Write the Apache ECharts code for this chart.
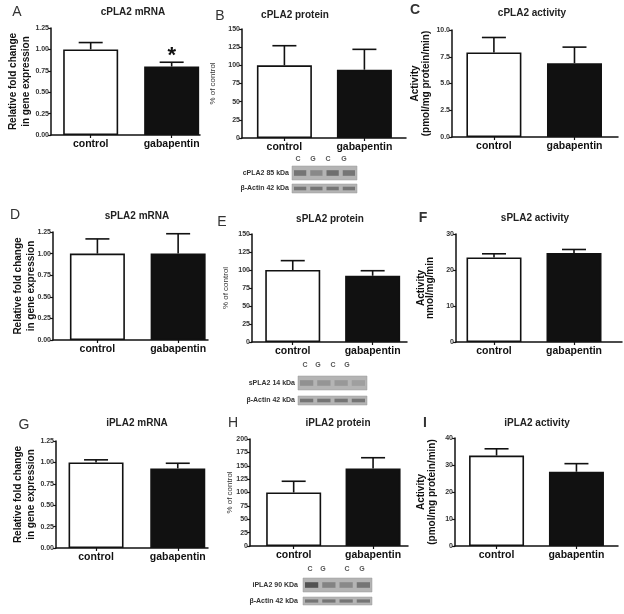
<!DOCTYPE html>
<html>
<head>
<meta charset="utf-8">
<script src="https://cdn.jsdelivr.net/npm/echarts@6/dist/echarts.min.js"></script>
<style>
  html, body { margin: 0; padding: 0; background: #fff; }
  #chart { width: 624px; height: 614px; }
</style>
</head>
<body>
<div id="chart"></div>
<script>
// ---- data ----
const categories = ['control', 'gabapentin'];
const panelLetters = ['A', 'B', 'C', 'D', 'E', 'F', 'G', 'H', 'I'];
const panelTitles = ['cPLA2 mRNA', 'cPLA2 protein', 'cPLA2 activity',
                     'sPLA2 mRNA', 'sPLA2 protein', 'sPLA2 activity',
                     'iPLA2 mRNA', 'iPLA2 protein', 'iPLA2 activity'];
const yNames = ['Relative fold change\nin gene expression', '% of control', 'Activity\n(pmol/mg protein/min)',
                'Relative fold change\nin gene expression', '% of control', 'Activity\nnmol/mg/min',
                'Relative fold change\nin gene expression', '% of control', 'Activity\n(pmol/mg protein/min)'];
const means = [[1.00, 0.80], [100, 94], [7.9, 6.9],
               [1.00, 1.00], [100, 92], [23.5, 24.7],
               [1.00, 0.93], [100, 145], [33.5, 27.5]];
const errors = [[0.08, 0.05], [27, 28], [1.4, 1.5],
                [0.17, 0.23], [13, 7], [1.0, 1.0],
                [0.03, 0.06], [21, 20], [2.5, 3.0]];
const significant = [[0, 1], [0, 0], [0, 0], [0, 0], [0, 0], [0, 0], [0, 0], [0, 0], [0, 0]];
const yMax = [1.25, 150, 10, 1.25, 150, 30, 1.25, 200, 40];
const yStep = [0.25, 25, 2.5, 0.25, 25, 10, 0.25, 25, 10];
const yDecimals = [2, 0, 1, 2, 0, 0, 2, 0, 0];
const laneLabels = ['C', 'G', 'C', 'G'];
const blotNames = [['cPLA2 85 kDa', 'β-Actin 42 kDa'], ['sPLA2 14 kDa', 'β-Actin 42 kDa'], ['iPLA2 90 KDa', 'β-Actin 42 kDa']];

// ---- layout (px) ----
// [left, top, width, height, xMin, xMax, nameGap, nameLineHeight]
const grids = [
  [51, 28, 149, 107, -0.49, 1.35, 19, 12.5], [242, 29, 164, 109, -0.53, 1.52, 24, 10], [452, 30, 166, 107, -0.52, 1.54, 20, 11],
  [53, 232, 155, 108, -0.55, 1.37, 15.5, 13], [252, 234, 155, 108, -0.51, 1.43, 21.5, 10], [456, 234, 166, 108, -0.475, 1.6, 21, 9.5],
  [56, 441, 152, 107, -0.49, 1.37, 18.5, 13], [250, 439, 158, 107, -0.55, 1.44, 15, 10], [455, 438, 163, 108, -0.52, 1.52, 18, 10.5]
];
const titlePos = [[133, 12], [295, 15], [532, 13], [137, 216], [330, 219], [535, 218], [137, 423], [338, 423], [537, 423]];
const letterPos = [[17, 12, 'normal'], [220, 16, 'normal'], [415, 10, 'bold'], [15, 215, 'normal'], [222, 222, 'normal'],
                   [423, 218, 'bold'], [24, 425, 'normal'], [233, 423, 'normal'], [425, 423, 'bold']];
// blot: lane label y, lane xs, label right edge, [x, y, w, h] for each strip
const blotLayout = [
  { laneY: 159, laneX: [298, 313, 328, 344], textRight: 289, strips: [[292, 166, 65, 14], [292, 184, 65, 9]] },
  { laneY: 365, laneX: [305, 318, 333, 347], textRight: 295, strips: [[298, 376, 69, 14], [298, 396, 69, 9]] },
  { laneY: 569, laneX: [310, 323, 347, 362], textRight: 298, strips: [[303, 578, 69, 14], [303, 597, 69, 8]] }
];
const bandShade = [[0.45, 0.3, 0.5, 0.45], [0.25, 0.22, 0.2, 0.15], [0.7, 0.35, 0.3, 0.45]];

const FONT = 'Arial, "Liberation Sans", sans-serif';
const INK = '#111';

const chart = echarts.init(document.getElementById('chart'));

function renderErr(params, api) {
  const x = api.value(0), m = api.value(1), e = api.value(2);
  const base = api.coord([x, m]);
  const top = api.coord([x, m + e]);
  const kids = [
    { type: 'line', shape: { x1: base[0], y1: base[1], x2: top[0], y2: top[1] }, style: { stroke: INK, lineWidth: 1.6 } },
    { type: 'line', shape: { x1: top[0] - 12, y1: top[1], x2: top[0] + 12, y2: top[1] }, style: { stroke: INK, lineWidth: 1.6 } }
  ];
  if (api.value(3)) {
    kids.push({ type: 'text', x: top[0], y: top[1] - 17,
      style: { text: '*', font: 'bold 22px ' + FONT, align: 'center', verticalAlign: 'top', fill: INK } });
  }
  return { type: 'group', children: kids };
}

const grid = [], xAxis = [], yAxis = [], series = [], graphic = [];

grids.forEach((g, i) => {
  grid.push({ left: g[0], top: g[1], width: g[2], height: g[3], outerBoundsMode: 'none' });
  xAxis.push({
    type: 'value', gridIndex: i, min: g[4], max: g[5],
    splitLine: { show: false },
    axisLine: { show: true, onZero: false, lineStyle: { color: INK, width: 1.5 } },
    axisTick: { show: true, customValues: [0, 1], length: 3, lineStyle: { color: INK, width: 1.2 } },
    axisLabel: { customValues: [0, 1], formatter: v => categories[Math.round(v)], margin: 4,
                 color: INK, fontFamily: FONT, fontWeight: 'bold', fontSize: 10.5 }
  });
  yAxis.push({
    type: 'value', gridIndex: i, min: 0, max: yMax[i], interval: yStep[i],
    splitLine: { show: false },
    axisLine: { show: true, onZero: false, lineStyle: { color: INK, width: 1.5 } },
    axisTick: { show: true, length: 3, lineStyle: { color: INK, width: 1.2 } },
    axisLabel: { formatter: v => v.toFixed(yDecimals[i]), margin: 2, color: '#333',
                 fontFamily: FONT, fontSize: 7, fontWeight: 'bold' },
    name: yNames[i], nameLocation: 'middle', nameGap: g[6], nameMoveOverlap: false,
    nameTextStyle: (i % 3 === 1)
      ? { fontFamily: FONT, fontSize: 8, color: '#333', fontWeight: 'normal', lineHeight: g[7] }
      : { fontFamily: FONT, fontSize: 10, color: INK, fontWeight: 'bold', lineHeight: g[7] }
  });
  series.push({
    type: 'bar', xAxisIndex: i, yAxisIndex: i, barWidth: 55,
    data: means[i].map((m, k) => ({
      value: [k, m],
      itemStyle: { color: k === 0 ? '#fff' : INK, borderColor: INK, borderWidth: 1.6 }
    }))
  });
  series.push({
    type: 'custom', xAxisIndex: i, yAxisIndex: i, renderItem: renderErr, z: 5,
    data: means[i].map((m, k) => [k, m, errors[i][k], significant[i][k]])
  });
  graphic.push({ type: 'text', x: titlePos[i][0], y: titlePos[i][1],
    style: { text: panelTitles[i], font: 'bold 10px ' + FONT, fill: '#222', align: 'center', verticalAlign: 'middle' } });
  graphic.push({ type: 'text', x: letterPos[i][0], y: letterPos[i][1],
    style: { text: panelLetters[i], font: letterPos[i][2] + ' 14px ' + FONT, fill: '#333', align: 'center', verticalAlign: 'middle' } });
});

// western blot strips under the protein panels
blotLayout.forEach((b, j) => {
  b.laneX.forEach((x, k) => {
    graphic.push({ type: 'text', x: x, y: b.laneY,
      style: { text: laneLabels[k], font: 'bold 7px ' + FONT, fill: '#555', align: 'center', verticalAlign: 'middle' } });
  });
  b.strips.forEach((s, r) => {
    graphic.push({ type: 'text', x: b.textRight, y: s[1] + s[3] / 2,
      style: { text: blotNames[j][r], font: 'bold 7px ' + FONT, fill: '#333', align: 'right', verticalAlign: 'middle' } });
    graphic.push({ type: 'rect', shape: { x: s[0], y: s[1], width: s[2], height: s[3] },
      style: { fill: '#b4b4b4', stroke: '#999', lineWidth: 0.5 } });
    const lw = s[2] / 4;
    for (let k = 0; k < 4; k++) {
      const shade = r === 0 ? bandShade[j][k] : 0.45;
      graphic.push({ type: 'rect', shape: { x: s[0] + k * lw + 2, y: s[1] + s[3] * 0.3, width: lw - 4, height: s[3] * 0.4 },
        style: { fill: 'rgba(40,40,40,' + shade + ')' } });
    }
  });
});

chart.setOption({
  animation: false,
  backgroundColor: '#fff',
  grid: grid,
  xAxis: xAxis,
  yAxis: yAxis,
  series: series,
  graphic: graphic
});
</script>
</body>
</html>
